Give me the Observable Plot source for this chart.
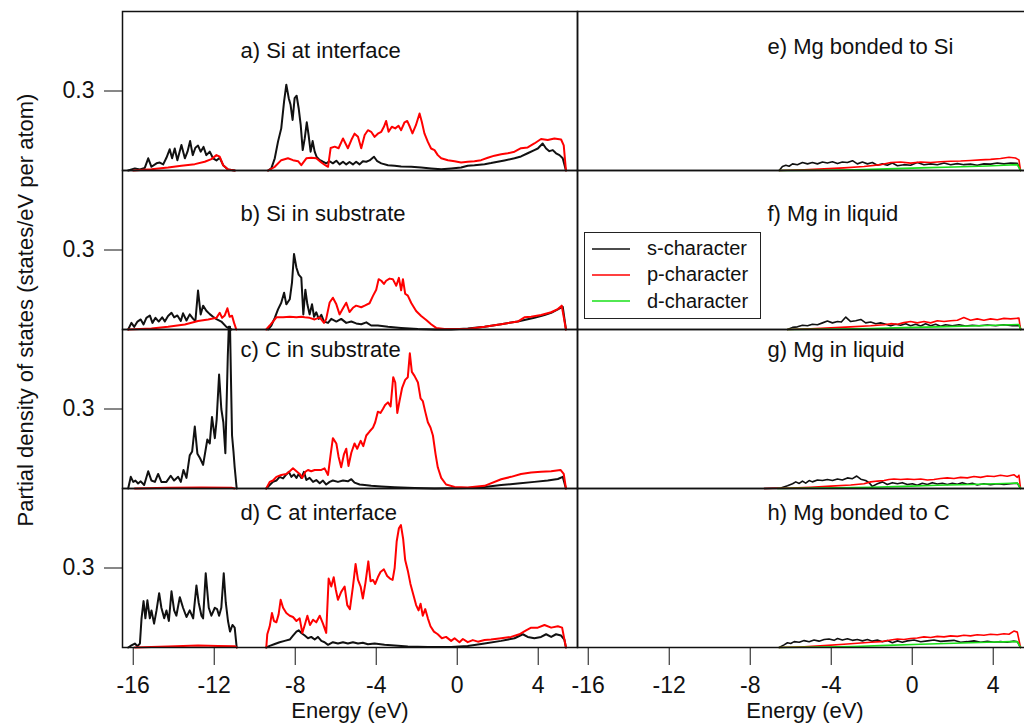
<!DOCTYPE html>
<html><head><meta charset="utf-8">
<script src="https://cdn.jsdelivr.net/npm/d3@7"></script>
<script src="https://cdn.jsdelivr.net/npm/@observablehq/plot@0.6"></script>
<style>
html,body{margin:0;padding:0;background:#fff;overflow:hidden;}
#wrap{position:relative;width:1032px;height:728px;font-family:"Liberation Sans",Arial,Helvetica,sans-serif;}
#legend{position:absolute;left:584px;top:232px;width:175px;height:85px;border:1.5px solid #222;background:#fff;}
.lg-row{position:absolute;left:7px;height:20px;display:flex;align-items:center;font-size:20px;color:#111;white-space:nowrap;}
.lg-row svg{margin-right:17px;}
</style></head>
<body><div id="wrap"><div id="legend"></div></div>
<script>
// ---------- data (energy in eV, PDOS in states/eV per atom) ----------
const channelNames = ["s-character", "p-character", "d-character"];
const channelColors = ["#111111", "#ff0000", "#19e019"];
const xTicks = [-16, -12, -8, -4, 0, 4];
const yTicks = [0.3];
const xTitle = "Energy (eV)";
const yTitle = "Partial density of states (states/eV per atom)";
const panelLabels = ["a) Si at interface", "b) Si in substrate", "c) C in substrate", "d) C at interface",
  "e) Mg bonded to Si", "f) Mg in liquid", "g) Mg in liquid", "h) Mg bonded to C"];

const aS = [[-16.25,0],[-15.92,.008],[-15.67,.004],[-15.43,.010],[-15.26,.046],[-15.10,.014],[-14.85,.027],[-14.69,.030],[-14.52,.023],[-14.36,.048],[-14.20,.080],[-14.08,.046],[-13.95,.083],[-13.82,.039],[-13.62,.096],[-13.45,.046],[-13.32,.071],[-13.19,.111],[-13.06,.058],[-12.93,.086],[-12.80,.094],[-12.67,.071],[-12.53,.089],[-12.39,.058],[-12.22,.071],[-12.06,.046],[-11.89,.038],[-11.73,.048],[-11.56,.020],[-11.32,.004],[-10.99,0],
  [-10.2,NaN],
  [-9.34,0],[-9.18,.008],[-9.01,.046],[-8.85,.109],[-8.69,.159],[-8.55,.261],[-8.44,.324],[-8.32,.273],[-8.23,.248],[-8.13,.191],[-8.03,.273],[-7.93,.282],[-7.83,.235],[-7.73,.172],[-7.63,.077],[-7.53,.121],[-7.43,.182],[-7.34,.134],[-7.24,.071],[-7.14,.111],[-7.04,.071],[-6.94,.051],[-6.80,.040],[-6.63,.033],[-6.47,.027],[-6.30,.035],[-6.14,.027],[-5.97,.037],[-5.81,.023],[-5.64,.033],[-5.48,.023],[-5.32,.032],[-5.15,.023],[-4.99,.033],[-4.82,.023],[-4.66,.035],[-4.49,.033],[-4.33,.038],[-4.11,.052],[-3.95,.035],[-3.75,.027],[-3.42,.020],[-3.09,.018],[-2.77,.015],[-2.27,.014],[-1.78,.011],[-1.29,.008],[-0.79,.005],[-0.30,.008],[0.19,.011],[0.52,.018],[0.85,.020],[1.35,.024],[1.67,.028],[2.00,.033],[2.33,.038],[2.83,.046],[3.15,.053],[3.48,.065],[3.81,.077],[3.98,.083],[4.22,.102],[4.39,.083],[4.55,.073],[4.72,.077],[4.88,.065],[5.05,.058],[5.21,.046],[5.37,0]];
const aP = [[-16.00,0],[-15.10,.005],[-14.28,.011],[-13.62,.018],[-12.96,.024],[-12.47,.033],[-12.14,.043],[-11.89,.058],[-11.73,.052],[-11.56,.020],[-11.32,.004],[-10.99,0],
  [-10.2,NaN],
  [-9.34,0],[-9.01,.014],[-8.69,.039],[-8.36,.046],[-8.11,.039],[-7.86,.035],[-7.70,.020],[-7.45,.046],[-7.21,.048],[-6.96,.046],[-6.71,.030],[-6.52,.020],[-6.38,.014],[-6.25,.085],[-6.05,.090],[-5.86,.084],[-5.64,.121],[-5.40,.084],[-5.23,.115],[-5.07,.139],[-4.90,.127],[-4.74,.084],[-4.57,.134],[-4.41,.152],[-4.25,.146],[-4.08,.127],[-3.92,.139],[-3.75,.146],[-3.62,.165],[-3.51,.187],[-3.39,.146],[-3.23,.165],[-3.06,.159],[-2.90,.169],[-2.77,.152],[-2.60,.182],[-2.47,.187],[-2.34,.165],[-2.21,.140],[-2.04,.171],[-1.86,.215],[-1.75,.184],[-1.62,.140],[-1.45,.108],[-1.29,.083],[-1.12,.077],[-0.96,.058],[-0.79,.046],[-0.46,.039],[-0.13,.035],[0.19,.030],[0.52,.033],[0.85,.035],[1.18,.039],[1.51,.048],[1.84,.056],[2.17,.061],[2.50,.065],[2.83,.071],[3.15,.084],[3.48,.087],[3.81,.102],[4.14,.119],[4.47,.115],[4.80,.121],[5.13,.117],[5.26,.095],[5.37,0]];

const bS = [[-16.25,0],[-16.09,.025],[-15.95,.010],[-15.79,.030],[-15.63,.038],[-15.49,.019],[-15.35,.044],[-15.18,.053],[-15.05,.025],[-14.90,.044],[-14.74,.030],[-14.57,.046],[-14.44,.030],[-14.28,.051],[-14.11,.063],[-13.98,.046],[-13.82,.053],[-13.65,.032],[-13.54,.061],[-13.37,.034],[-13.21,.057],[-13.04,.040],[-12.93,.032],[-12.80,.147],[-12.67,.057],[-12.55,.090],[-12.39,.071],[-12.22,.058],[-12.06,.048],[-11.89,.039],[-11.65,.030],[-11.40,.010],[-11.15,0],
  [-10.2,NaN],
  [-9.34,0],[-9.18,.015],[-9.01,.044],[-8.85,.076],[-8.69,.101],[-8.55,.139],[-8.44,.095],[-8.27,.114],[-8.16,.177],[-8.06,.285],[-7.94,.233],[-7.83,.207],[-7.70,.196],[-7.60,.057],[-7.50,.150],[-7.40,.095],[-7.29,.057],[-7.17,.095],[-7.07,.048],[-6.96,.065],[-6.84,.040],[-6.71,.055],[-6.58,.030],[-6.38,.025],[-6.22,.040],[-5.97,.030],[-5.73,.040],[-5.48,.025],[-5.23,.030],[-4.99,.023],[-4.74,.020],[-4.49,.027],[-4.25,.015],[-3.92,.015],[-3.42,.010],[-2.77,.006],[-1.94,.002],[-1.12,0],[-0.30,0],[0.52,.004],[1.35,.010],[2.17,.020],[2.99,.030],[3.81,.044],[4.31,.055],[4.64,.063],[4.97,.076],[5.21,.086],[5.37,0]];
const bP = [[-16.25,0],[-15.10,.004],[-14.28,.010],[-13.45,.019],[-12.80,.032],[-12.30,.038],[-11.89,.044],[-11.73,.063],[-11.61,.044],[-11.48,.053],[-11.35,.080],[-11.24,.048],[-11.12,.052],[-11.02,.025],[-10.91,0],
  [-10.2,NaN],
  [-9.43,0],[-9.26,.015],[-9.10,.030],[-8.93,.046],[-8.60,.046],[-8.27,.048],[-7.94,.046],[-7.70,.048],[-7.53,.046],[-7.29,.044],[-7.04,.038],[-6.79,.046],[-6.58,.025],[-6.47,.040],[-6.30,.102],[-6.14,.120],[-5.97,.095],[-5.81,.057],[-5.64,.080],[-5.48,.101],[-5.32,.066],[-5.15,.082],[-4.99,.090],[-4.74,.084],[-4.57,.090],[-4.33,.099],[-4.16,.127],[-4.00,.150],[-3.88,.190],[-3.75,.184],[-3.62,.172],[-3.51,.184],[-3.34,.192],[-3.18,.190],[-3.01,.165],[-2.88,.195],[-2.77,.148],[-2.68,.190],[-2.57,.135],[-2.44,.128],[-2.27,.100],[-2.03,.070],[-1.78,.051],[-1.53,.036],[-1.29,.020],[-1.04,.006],[-0.63,.002],[0.52,.002],[1.35,.010],[2.17,.020],[2.99,.030],[3.32,.046],[3.65,.048],[4.14,.055],[4.64,.065],[4.97,.077],[5.16,.090],[5.37,0]];

const cS = [[-16.25,0],[-16.12,.044],[-16.00,.025],[-15.89,.030],[-15.76,.019],[-15.63,.027],[-15.46,.013],[-15.26,.065],[-15.10,.030],[-14.93,.025],[-14.77,.055],[-14.61,.025],[-14.36,.025],[-14.15,.048],[-13.98,.030],[-13.78,.044],[-13.65,.025],[-13.52,.070],[-13.37,.040],[-13.21,.125],[-13.09,.140],[-12.96,.234],[-12.83,.131],[-12.70,.114],[-12.55,.089],[-12.34,.185],[-12.22,.170],[-12.11,.270],[-11.97,.190],[-11.88,.260],[-11.76,.430],[-11.65,.300],[-11.55,.250],[-11.45,.133],[-11.33,.50],[-11.28,.61],[-11.22,.61],[-11.17,.40],[-11.12,.20],[-11.05,.14],[-10.99,.08],[-10.89,0],
  [-10.2,NaN],
  [-9.43,0],[-9.26,.013],[-9.10,.025],[-8.93,.030],[-8.77,.044],[-8.60,.038],[-8.44,.053],[-8.32,.063],[-8.19,.044],[-8.06,.053],[-7.94,.040],[-7.83,.055],[-7.70,.040],[-7.57,.063],[-7.45,.032],[-7.29,.040],[-7.12,.025],[-6.96,.032],[-6.79,.020],[-6.63,.030],[-6.47,.015],[-6.30,.025],[-6.14,.030],[-5.89,.025],[-5.64,.030],[-5.40,.027],[-5.23,.035],[-5.07,.022],[-4.82,.015],[-4.57,.013],[-4.25,.010],[-3.75,.008],[-3.09,.005],[-2.11,.002],[-1.12,0],[0.52,.002],[1.35,.006],[2.17,.013],[2.99,.019],[3.81,.025],[4.47,.030],[4.97,.036],[5.21,.044],[5.37,0]];
const cP = [[-15.92,0],[-14.28,.003],[-12.63,.004],[-11.15,.003],[-10.99,0],
  [-10.2,NaN],
  [-9.43,0],[-9.26,.025],[-9.10,.030],[-8.93,.044],[-8.69,.051],[-8.44,.055],[-8.27,.065],[-8.11,.076],[-7.94,.065],[-7.78,.055],[-7.65,.040],[-7.50,.063],[-7.37,.070],[-7.21,.065],[-7.04,.070],[-6.88,.070],[-6.71,.070],[-6.55,.076],[-6.38,.051],[-6.25,.129],[-6.14,.190],[-5.97,.170],[-5.86,.120],[-5.73,.080],[-5.59,.130],[-5.48,.150],[-5.37,.085],[-5.23,.135],[-5.07,.170],[-4.94,.150],[-4.77,.180],[-4.64,.160],[-4.49,.200],[-4.33,.215],[-4.16,.230],[-4.05,.250],[-3.92,.290],[-3.79,.285],[-3.67,.300],[-3.56,.315],[-3.42,.325],[-3.29,.310],[-3.16,.420],[-3.06,.400],[-2.96,.285],[-2.85,.330],[-2.72,.380],[-2.57,.410],[-2.44,.420],[-2.34,.510],[-2.24,.440],[-2.11,.425],[-1.94,.400],[-1.81,.340],[-1.70,.330],[-1.58,.290],[-1.45,.250],[-1.32,.230],[-1.20,.200],[-1.07,.130],[-0.96,.080],[-0.79,.040],[-0.55,.015],[-0.13,.006],[0.52,.004],[1.35,.010],[2.17,.035],[2.66,.044],[3.15,.055],[3.65,.060],[4.14,.063],[4.64,.065],[5.10,.070],[5.26,.055],[5.37,0]];

const dS = [[-16.25,0],[-16.09,.008],[-15.92,.015],[-15.79,.005],[-15.67,.015],[-15.59,.110],[-15.49,.175],[-15.40,.110],[-15.30,.178],[-15.18,.110],[-15.10,.140],[-14.97,.090],[-14.85,.140],[-14.72,.205],[-14.61,.150],[-14.47,.110],[-14.36,.140],[-14.24,.100],[-14.11,.212],[-13.98,.140],[-13.87,.120],[-13.70,.190],[-13.54,.150],[-13.37,.115],[-13.21,.140],[-13.04,.110],[-12.88,.234],[-12.77,.170],[-12.63,.120],[-12.55,.110],[-12.42,.280],[-12.27,.150],[-12.14,.120],[-11.97,.150],[-11.86,.145],[-11.76,.120],[-11.65,.150],[-11.53,.280],[-11.43,.170],[-11.32,.100],[-11.22,.060],[-11.10,.085],[-10.99,.075],[-10.89,0],
  [-10.2,NaN],
  [-9.43,0],[-9.26,.006],[-9.01,.013],[-8.77,.020],[-8.52,.025],[-8.27,.030],[-8.11,.045],[-7.94,.060],[-7.83,.065],[-7.70,.055],[-7.53,.045],[-7.37,.035],[-7.21,.040],[-7.04,.030],[-6.88,.040],[-6.71,.025],[-6.55,.020],[-6.38,.010],[-6.14,.020],[-5.89,.015],[-5.64,.020],[-5.40,.015],[-5.15,.020],[-4.90,.015],[-4.66,.018],[-4.41,.012],[-4.08,.015],[-3.59,.010],[-3.09,.008],[-2.44,.004],[-1.45,.002],[-0.30,.002],[0.52,.006],[1.35,.015],[2.17,.025],[2.83,.035],[3.24,.050],[3.48,.040],[3.81,.035],[4.14,.040],[4.39,.050],[4.64,.040],[4.88,.050],[5.13,.045],[5.29,.030],[5.37,0]];
const dP = [[-15.92,0],[-14.28,.004],[-12.80,.008],[-11.81,.006],[-10.99,.005],[-10.89,0],
  [-10.2,NaN],
  [-9.43,0],[-9.38,.050],[-9.26,.080],[-9.15,.130],[-9.05,.100],[-8.93,.095],[-8.82,.125],[-8.72,.180],[-8.60,.150],[-8.44,.130],[-8.27,.120],[-8.11,.115],[-7.94,.100],[-7.78,.110],[-7.65,.055],[-7.53,.085],[-7.40,.120],[-7.27,.085],[-7.12,.105],[-6.96,.095],[-6.79,.120],[-6.63,.090],[-6.47,.055],[-6.35,.260],[-6.22,.230],[-6.10,.265],[-6.00,.220],[-5.89,.180],[-5.73,.210],[-5.56,.230],[-5.43,.160],[-5.30,.145],[-5.15,.230],[-5.02,.315],[-4.90,.255],[-4.77,.230],[-4.66,.185],[-4.53,.245],[-4.39,.325],[-4.28,.250],[-4.16,.255],[-4.05,.240],[-3.92,.265],[-3.79,.285],[-3.62,.295],[-3.46,.270],[-3.32,.260],[-3.19,.255],[-3.09,.300],[-2.99,.400],[-2.88,.450],[-2.78,.462],[-2.67,.410],[-2.57,.330],[-2.44,.290],[-2.31,.240],[-2.17,.200],[-2.03,.160],[-1.91,.140],[-1.81,.165],[-1.70,.120],[-1.58,.145],[-1.45,.110],[-1.32,.080],[-1.15,.060],[-0.96,.050],[-0.76,.035],[-0.55,.040],[-0.30,.025],[-0.13,.035],[0.11,.020],[0.28,.032],[0.52,.020],[0.77,.028],[1.02,.022],[1.35,.028],[1.67,.030],[2.17,.035],[2.66,.040],[3.07,.050],[3.40,.065],[3.65,.075],[3.98,.075],[4.31,.085],[4.64,.075],[4.97,.080],[5.18,.075],[5.37,0]];

const eS = [[-6.57,0],[-6.41,.015],[-6.24,.020],[-6.08,.016],[-5.91,.025],[-5.67,.022],[-5.42,.030],[-5.17,.025],[-4.93,.030],[-4.68,.025],[-4.43,.032],[-4.19,.028],[-3.94,.033],[-3.69,.026],[-3.45,.032],[-3.20,.030],[-2.95,.037],[-2.71,.025],[-2.46,.032],[-2.21,.025],[-1.97,.030],[-1.72,.020],[-1.47,.025],[-1.23,.020],[-0.98,.028],[-0.73,.018],[-0.41,.022],[-0.08,.020],[0.25,.030],[0.58,.022],[0.91,.025],[1.24,.022],[1.57,.028],[1.90,.022],[2.23,.026],[2.55,.022],[2.88,.024],[3.21,.020],[3.54,.025],[3.87,.024],[4.20,.028],[4.53,.025],[4.86,.028],[5.19,.027],[5.35,0]];
const eP = [[-6.57,0],[-5.34,.003],[-4.35,.006],[-3.37,.010],[-2.38,.015],[-1.56,.022],[-1.06,.030],[-0.57,.032],[-0.08,.028],[0.42,.032],[0.91,.030],[1.40,.033],[1.90,.035],[2.39,.036],[2.88,.038],[3.38,.040],[3.87,.042],[4.36,.045],[4.78,.050],[5.10,.047],[5.27,.040],[5.35,0]];
const eD = [[-6.57,0],[-4.52,.001],[-2.87,.003],[-1.23,.006],[0.42,.010],[2.06,.013],[3.71,.017],[4.53,.020],[5.19,.022],[5.35,0]];

const fS = [[-6.16,0],[-5.91,.008],[-5.67,.010],[-5.42,.016],[-5.17,.014],[-4.93,.020],[-4.68,.018],[-4.43,.025],[-4.19,.032],[-3.94,.025],[-3.69,.030],[-3.50,.028],[-3.28,.047],[-3.04,.030],[-2.79,.033],[-2.54,.038],[-2.30,.025],[-2.05,.028],[-1.80,.022],[-1.56,.025],[-1.31,.020],[-1.06,.014],[-0.82,.020],[-0.57,.016],[-0.32,.022],[-0.08,.014],[0.17,.020],[0.42,.013],[0.66,.022],[0.91,.014],[1.16,.020],[1.40,.012],[1.65,.018],[1.98,.014],[2.31,.018],[2.64,.013],[2.97,.016],[3.30,.014],[3.71,.017],[4.12,.014],[4.53,.018],[4.94,.014],[5.30,.015],[5.37,0]];
const fP = [[-6.16,0],[-5.01,.003],[-4.02,.006],[-3.04,.010],[-2.05,.014],[-1.39,.018],[-1.06,.022],[-0.73,.020],[-0.41,.026],[-0.08,.030],[0.25,.025],[0.58,.030],[0.91,.025],[1.24,.033],[1.57,.030],[1.90,.033],[2.23,.035],[2.55,.045],[2.88,.035],[3.21,.040],[3.54,.035],[3.87,.040],[4.20,.037],[4.53,.042],[4.86,.040],[5.27,.043],[5.35,0]];
const fD = [[-6.16,0],[-3.69,.002],[-2.05,.004],[-0.41,.007],[1.24,.010],[2.88,.013],[4.53,.017],[5.27,.019],[5.35,0]];

const gS = [[-7.31,0],[-6.49,.002],[-6.16,.010],[-5.91,.018],[-5.75,.025],[-5.58,.019],[-5.42,.028],[-5.26,.020],[-5.09,.030],[-4.93,.025],[-4.68,.032],[-4.43,.030],[-4.19,.034],[-3.94,.030],[-3.69,.036],[-3.45,.032],[-3.20,.040],[-2.95,.037],[-2.74,.047],[-2.54,.035],[-2.30,.030],[-2.13,.022],[-1.97,.008],[-1.72,.018],[-1.47,.025],[-1.23,.015],[-0.98,.022],[-0.73,.018],[-0.49,.022],[-0.24,.015],[0.01,.018],[0.25,.012],[0.50,.020],[0.75,.015],[0.99,.022],[1.24,.017],[1.49,.020],[1.73,.015],[1.98,.020],[2.23,.016],[2.47,.022],[2.72,.016],[2.97,.020],[3.21,.013],[3.54,.018],[3.87,.014],[4.20,.018],[4.53,.015],[4.86,.018],[5.19,.020],[5.35,0]];
const gP = [[-7.31,0],[-6.00,.002],[-5.01,.005],[-4.02,.009],[-3.04,.013],[-2.38,.018],[-2.05,.025],[-1.72,.028],[-1.39,.030],[-1.15,.034],[-0.90,.036],[-0.57,.034],[-0.24,.036],[0.09,.034],[0.42,.036],[0.75,.032],[1.07,.034],[1.40,.038],[1.73,.040],[2.06,.038],[2.39,.042],[2.72,.040],[3.05,.045],[3.38,.042],[3.71,.047],[4.04,.045],[4.36,.050],[4.69,.046],[5.02,.052],[5.19,.042],[5.27,.050],[5.35,0]];
const gD = [[-6.65,0],[-3.69,.003],[-2.05,.005],[-0.41,.008],[1.24,.012],[2.88,.015],[4.53,.019],[5.19,.021],[5.35,0]];

const hS = [[-6.57,0],[-6.33,.010],[-6.16,.018],[-6.00,.015],[-5.83,.022],[-5.58,.020],[-5.34,.026],[-5.09,.022],[-4.85,.028],[-4.60,.024],[-4.35,.030],[-4.11,.032],[-3.86,.027],[-3.69,.034],[-3.45,.028],[-3.20,.033],[-2.95,.027],[-2.71,.030],[-2.46,.025],[-2.21,.030],[-1.97,.024],[-1.72,.028],[-1.47,.022],[-1.23,.026],[-0.98,.018],[-0.73,.025],[-0.49,.020],[-0.24,.025],[0.09,.028],[0.42,.022],[0.75,.025],[1.07,.028],[1.40,.023],[1.73,.025],[2.06,.027],[2.39,.020],[2.72,.022],[3.05,.025],[3.38,.020],[3.71,.023],[4.04,.020],[4.36,.022],[4.69,.020],[5.02,.024],[5.19,.022],[5.35,0]];
const hP = [[-6.57,0],[-5.34,.003],[-4.35,.007],[-3.37,.012],[-2.71,.016],[-2.05,.020],[-1.56,.022],[-1.06,.028],[-0.73,.032],[-0.41,.030],[-0.08,.034],[0.25,.036],[0.58,.040],[0.91,.038],[1.24,.042],[1.57,.040],[1.90,.044],[2.23,.042],[2.55,.046],[2.88,.044],[3.21,.048],[3.54,.046],[3.87,.050],[4.20,.048],[4.53,.052],[4.78,.050],[5.02,.062],[5.19,.058],[5.35,0]];
const hD = [[-6.57,0],[-4.52,.002],[-2.87,.004],[-1.23,.008],[0.42,.012],[2.06,.016],[3.71,.020],[4.86,.022],[5.19,.022],[5.35,0]];

// ---------- panel table (grid placement) ----------
const panelSeries = [[aS, aP], [bS, bP], [cS, cP], [dS, dP], [eS, eP, eD], [fS, fP, fD], [gS, gP, gD], [hS, hP, hD]];
const panels = panelLabels.map((label, i) => ({label, col: i < 4 ? "L" : "R", row: (i % 4) + 1, series: panelSeries[i]}));

// label placement (px from panel top-left)
const labelDx = [118, 118, 118, 118, 190, 190, 190, 190];
const labelDy = [46, 50, 27, 31, 42, 50, 27, 31];

const rows = [];
panels.forEach(p => p.series.forEach((arr, k) => arr.forEach(([E, v]) =>
  rows.push({E, v, ch: channelNames[k], col: p.col, row: p.row}))));

const FONT = '"Liberation Sans", Arial, Helvetica, sans-serif';

const chart = Plot.plot({
  width: 1032, height: 728,
  marginLeft: 121, marginRight: 0, marginTop: 10, marginBottom: 80.5,
  style: {fontFamily: FONT, fontSize: "23px", color: "#111", background: "#fff", maxWidth: "none", overflow: "visible"},
  fx: {domain: ["L", "R"], padding: 0, axis: null},
  fy: {domain: [1, 2, 3, 4], padding: 0, axis: null},
  x: {domain: [-16.53, 5.94], ticks: xTicks, tickFormat: d => String(d), tickSize: 18, tickPadding: 11, label: null},
  y: {domain: [0, 0.6], ticks: yTicks, tickFormat: d => d.toFixed(1), tickSize: 18, tickPadding: 10, label: null},
  color: {domain: channelNames, range: channelColors},
  marks: [
    Plot.line(rows.filter(d => d.col === "L"), {x: "E", y: "v", z: "ch", stroke: "ch", fx: "col", fy: "row", strokeWidth: 2}),
    Plot.line(rows.filter(d => d.col === "R"), {x: "E", y: "v", z: "ch", stroke: "ch", fx: "col", fy: "row", strokeWidth: 1.6}),
    Plot.frame({stroke: "#111", strokeWidth: 1.5}),
    ...panels.map((p, i) => Plot.text([p], {
      fx: d => d.col, fy: d => d.row, text: d => d.label,
      frameAnchor: "top-left", textAnchor: "start", lineAnchor: "bottom",
      dx: labelDx[i], dy: labelDy[i], fontSize: 22, fill: "#111"
    })),
    Plot.text(["L", "R"], {fx: d => d, fy: () => 4, text: () => xTitle,
      frameAnchor: "bottom", lineAnchor: "bottom", dy: 70.5, fontSize: 22, fill: "#111"})
  ]
});
chart.style.maxWidth = "none";
document.getElementById("wrap").appendChild(chart);

d3.select(chart).append("text")
  .attr("transform", "translate(33,310) rotate(-90)")
  .attr("text-anchor", "middle")
  .attr("font-size", 22)
  .attr("fill", "#111")
  .attr("font-family", FONT)
  .text(yTitle);

// ---------- legend ----------
const legend = d3.select("#legend");
channelNames.forEach((name, i) => {
  const row = legend.append("div").attr("class", "lg-row").style("top", (5.5 + i * 26.3) + "px");
  const s = row.append("svg").attr("width", 38).attr("height", 20);
  s.append("line").attr("x1", 0).attr("x2", 38).attr("y1", 10).attr("y2", 10)
    .attr("stroke", channelColors[i]).attr("stroke-width", 1.5);
  row.append("span").text(name);
});
</script></body></html>
